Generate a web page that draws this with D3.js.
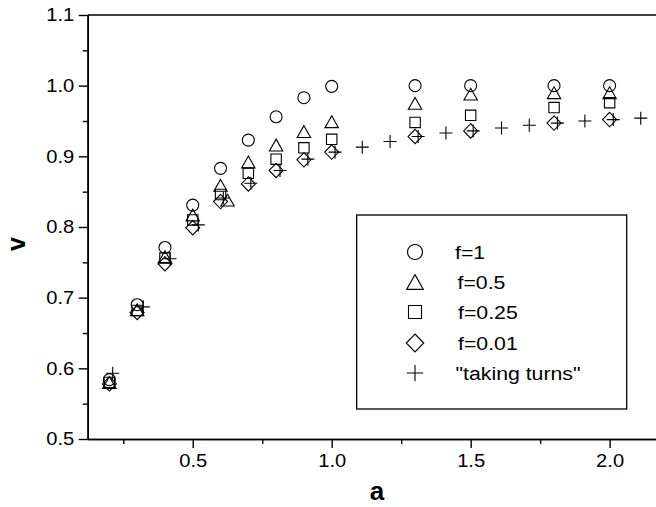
<!DOCTYPE html>
<html><head><meta charset="utf-8">
<script src="https://cdn.jsdelivr.net/npm/d3@7"></script>
<style>
body{margin:0;background:#fff;}
svg text{font-family:"Liberation Sans",Arial,sans-serif;fill:#000;}
.st{transform-box:fill-box;transform-origin:center;transform:scaleX(1.12);}
</style></head>
<body><svg id="c" width="656" height="507"></svg>
<script>
// ---- data ----
const aMain = [0.2,0.3,0.4,0.5,0.6,0.7,0.8,0.9,1.0,1.3,1.5,1.8,2.0];
const vF1    = [0.584,0.690,0.771,0.831,0.883,0.923,0.956,0.983,0.999,1.000,1.000,1.000,1.000];
const vF05   = [0.580,0.683,0.758,0.817,0.859,0.892,0.916,0.935,0.949,0.975,0.988,0.990,0.990];
const aF05x  = [0.625];
const vF05x  = [0.838];
const vF025  = [0.580,0.682,0.756,0.810,0.846,0.876,0.896,0.912,0.924,0.948,0.958,0.969,0.976];
const vF001  = [0.578,0.679,0.748,0.799,0.836,0.861,0.880,0.895,0.906,0.928,0.936,0.947,0.952];
const aTurns = [0.212,0.322,0.418,0.52,0.61,0.709,0.814,0.914,1.012,1.110,1.21,1.311,1.411,1.509,1.611,1.711,1.812,1.911,2.013,2.112];
const vTurns = [0.593,0.687,0.755,0.803,0.841,0.862,0.880,0.896,0.906,0.913,0.921,0.928,0.933,0.936,0.940,0.944,0.947,0.950,0.952,0.954];
const xMajor = [0.5,1.0,1.5,2.0];
const xMinor = [0.25,0.75,1.25,1.75];
const yMajor = [0.5,0.6,0.7,0.8,0.9,1.0,1.1];
const yMinor = [0.55,0.65,0.75,0.85,0.95,1.05];
const legendLabels = ["f=1","f=0.5","f=0.25","f=0.01","\"taking turns\""];

const svg = d3.select("#c");
const x = d3.scaleLinear().domain([0.122,2.2]).range([87.7,665.2]);
const y = d3.scaleLinear().domain([0.5,1.1]).range([439,15]);

// symbol path generators (centered at 0,0)
function circ(s){const r=6*s;return `M${r},0A${r},${r} 0 1,1 ${-r},0A${r},${r} 0 1,1 ${r},0Z`;}
function tri(s){const w=6.7*s,h=5.9*s;return `M0,${-h}L${w},${h}L${-w},${h}Z`;}
function sq(s){const h=5.2*s;return `M${-h},${-h}H${h}V${h}H${-h}Z`;}
function dia(s){const w=7*s,h=7.2*s;return `M0,${-h}L${w},0L0,${h}L${-w},0Z`;}
function plus(s){const h=6.5*s;return `M${-h},0H${h}M0,${-h}V${h}`;}
const shapes=[circ,tri,sq,dia,plus];

const g = svg.append("g");
function drawSeries(xs, ys, fn){
  g.selectAll(null).data(xs.map((d,i)=>[d,ys[i]])).enter().append("path")
   .attr("transform",d=>`translate(${x(d[0])},${y(d[1])})`)
   .attr("d",fn(1)).attr("fill","none").attr("stroke","#000").attr("stroke-width",1.1);
}
drawSeries(aMain,vF1,circ);
drawSeries(aMain,vF05,tri);
drawSeries(aF05x,vF05x,tri);
drawSeries(aMain,vF025,sq);
drawSeries(aMain,vF001,dia);
drawSeries(aTurns,vTurns,plus);

// axes
const fmt=d3.format(".1f");
const xa=svg.append("g").attr("transform","translate(0,439)")
  .call(d3.axisBottom(x).tickValues(xMajor).tickSize(9).tickSizeOuter(0).tickPadding(6).tickFormat(fmt));
svg.append("g").attr("transform","translate(0,439)")
  .call(d3.axisBottom(x).tickValues(xMinor).tickSize(5).tickSizeOuter(0).tickFormat(""));
const ya=svg.append("g").attr("transform","translate(87.7,0)")
  .call(d3.axisLeft(y).tickValues(yMajor).tickSize(9).tickSizeOuter(0).tickPadding(6).tickFormat(fmt));
svg.append("g").attr("transform","translate(87.7,0)")
  .call(d3.axisLeft(y).tickValues(yMinor).tickSize(5).tickSizeOuter(0).tickFormat(""));
svg.selectAll(".domain").attr("stroke","#000").attr("stroke-width",1.6);
svg.selectAll(".tick line").attr("stroke","#000").attr("stroke-width",1.4);
svg.selectAll(".tick text").attr("font-size",18).attr("font-family","Liberation Sans, Arial, sans-serif").attr("class","st");
// top frame
svg.append("line").attr("x1",x.range()[0]).attr("x2",x.range()[1]).attr("y1",y(1.1)).attr("y2",y(1.1))
  .attr("stroke","#000").attr("stroke-width",1.6);

// axis titles
svg.append("text").attr("x",377).attr("y",500).attr("text-anchor","middle")
  .attr("font-size",26).attr("font-weight","bold").text("a");
svg.append("text").attr("transform","translate(25,244) rotate(-90)").attr("text-anchor","middle")
  .attr("font-size",25).attr("font-weight","bold").text("v");

// legend
const lg=svg.append("g");
lg.append("rect").attr("x",356.7).attr("y",215).attr("width",270).attr("height",194)
  .attr("fill","#fff").attr("stroke","#000").attr("stroke-width",1.3);
const rowY=[252,282,312,343,373];
const textX=[455,457.5,458,458,455.5];
legendLabels.forEach((t,i)=>{
  lg.append("path").attr("transform",`translate(415,${rowY[i]})`).attr("d",shapes[i](1.25))
    .attr("fill","none").attr("stroke","#000").attr("stroke-width",1.1);
  lg.append("text").attr("x",textX[i]).attr("y",rowY[i]+7).attr("font-size",19).attr("class","st")
    .style("transform-origin","left center").text(t);
});
</script></body></html>
